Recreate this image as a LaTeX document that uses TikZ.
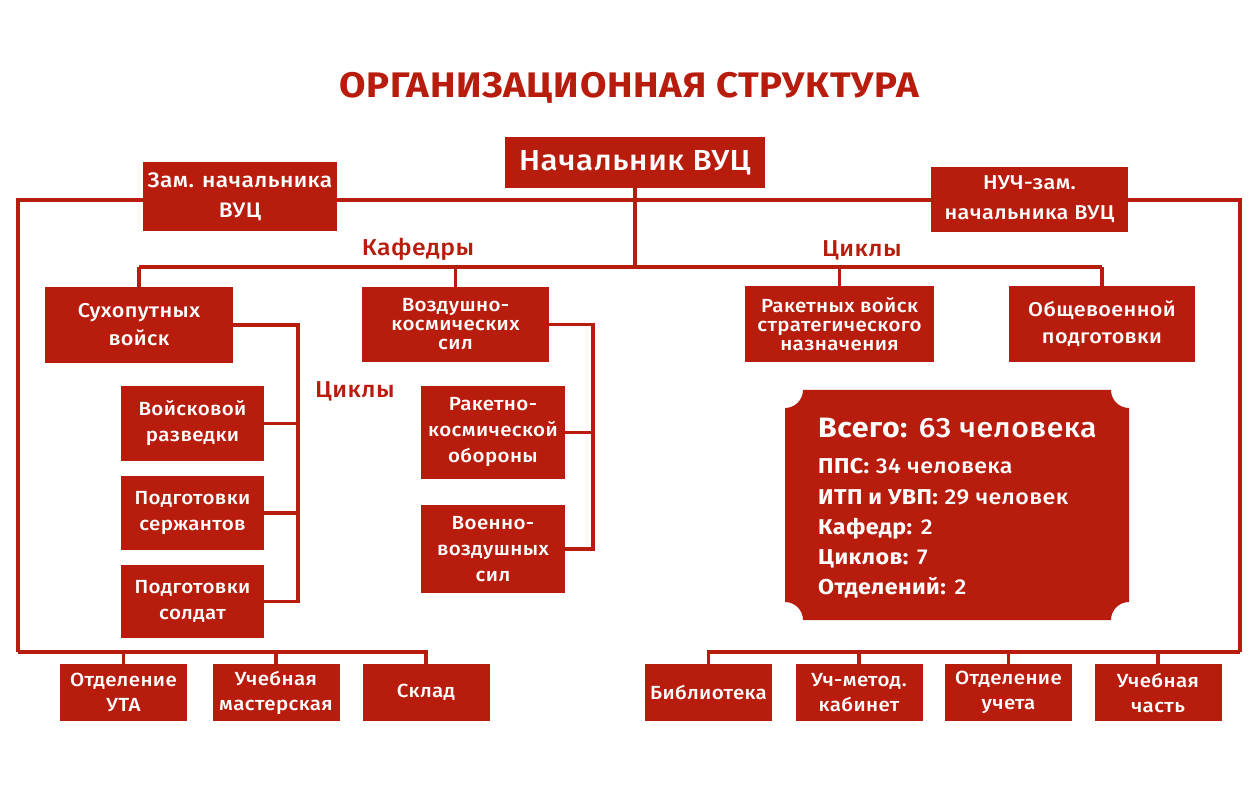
\documentclass[tikz,border=0pt]{standalone}
\usepackage{fontspec}
\setmainfont{Fira Sans}[UprightFont=* Medium, BoldFont=* Bold, FakeStretch=1.08, LetterSpace=2]
\usetikzlibrary{positioning,backgrounds,calc}
\definecolor{vuc}{HTML}{B81C0C}
\tikzset{
  box/.style={fill=vuc,text=white,inner sep=0pt,align=center,font=\fontsize{19}{26}\selectfont},
  sz/.style 2 args={minimum width=#1,minimum height=#2},
  tight/.style={font=\fontsize{19}{19}\selectfont},
  lab/.style={text=vuc,inner sep=0pt,anchor=base,font=\fontsize{23}{23}\selectfont},
  link/.style={draw=vuc,line width=3.5pt},
}
\begin{document}
\begin{tikzpicture}[x=1pt,y=-1pt]
\useasboundingbox (0,0) rectangle (1254,786);
\node[lab,font=\fontsize{35.5}{36}\selectfont\bfseries] (title) at (629,98) {ОРГАНИЗАЦИОННАЯ СТРУКТУРА};
% head
\node[box,sz={260}{51},font=\fontsize{29}{29}\selectfont] (chief) at (635,162.5) {Начальник ВУЦ};
\node[box,sz={194}{69},font=\fontsize{21}{30}\selectfont] (dep1) at (240,196.5) {Зам. начальника\\ВУЦ};
\node[box,sz={197}{65},font=\fontsize{20}{30}\selectfont] (dep2) at (1029.5,199.5) {НУЧ-зам.\\начальника ВУЦ};
% kafedry and cycles
\node[box,sz={188}{76},font=\fontsize{20}{28}\selectfont] (kaf1) at (139,325) {Сухопутных\\войск};
\node[box,tight,sz={187}{75}] (kaf2) at (455.5,324.5) {Воздушно-\\космических\\сил};
\node[box,tight,sz={189}{76}] (cyc1) at (839.5,324) {Ракетных войск\\стратегического\\назначения};
\node[box,sz={186}{76},font=\fontsize{20}{27}\selectfont] (cyc2) at (1102,324) {Общевоенной\\подготовки};
\node[lab] (lkaf) at (418,256) {Кафедры};
\node[lab] (lcyc) at (862,257) {Циклы};
\node[lab] (lsub) at (355,398) {Циклы};
% sub cycles
\node[box,sz={143}{75}] (sub1) at (192.5,423.5) {Войсковой\\разведки};
\node[box,sz={143}{74}] (sub2) at (192.5,513) {Подготовки\\сержантов};
\node[box,sz={143}{73}] (sub3) at (192.5,601.5) {Подготовки\\солдат};
\node[box,sz={144}{93}] (sub4) at (493,432.5) {Ракетно-\\космической\\обороны};
\node[box,sz={144}{88}] (sub5) at (493,549) {Военно-\\воздушных\\сил};
% departments
\foreach \n/\x/\t in {bl1/123.5/{Отделение\\УТА},bl2/276/{Учебная\\мастерская},bl3/426/{Склад},
  br1/708.5/{Библиотека},br2/859/{Уч-метод.\\кабинет},br3/1008.5/{Отделение\\учета},br4/1158/{Учебная\\часть}}
  \node[box,sz={127}{57},font=\fontsize{19}{25}\selectfont] (\n) at (\x,692.5) {\t};
% summary
\fill[vuc] (803,390) -- (1111,390) arc (180:90:18) -- (1129,602) arc (270:180:18)
  -- (803,620) arc (0:-90:18) -- (785,408) arc (90:0:18) -- cycle;
\node[anchor=base west,inner sep=0pt,text=white,font=\fontsize{28}{28}\selectfont] (total) at (818,438)
  {\textbf{Всего:} 63 человека};
\foreach \y/\k/\v in {474/ППС:/34 человека,504/ИТП и УВП:/29 человек,534/Кафедр:/2,564/Циклов:/7,594/Отделений:/2}
  \node[anchor=base west,inner sep=0pt,text=white,font=\fontsize{21.5}{22}\selectfont] at (818,\y) {\textbf{\k} \v};
% links
\begin{scope}[on background layer]
\fill[white] (0,0) rectangle (1254,786);
\coordinate (topL) at (18,200);
\coordinate (topR) at (1240,200);
\coordinate (botL) at (18,652);
\coordinate (botR) at (1240,652);
\coordinate (bar) at (0,267);
\draw[link] (botL) -- (topL) -- (topR) -- (botR);
\draw[link] (chief.south) -- (chief.south |- bar);
\draw[link] (kaf1.north |- bar) -- (cyc2.north |- bar);
\foreach \n in {kaf1,kaf2,cyc1,cyc2} \draw[link] (\n.north) -- (\n.north |- bar);
\draw[link] (kaf1.east) -- ++(65,0) coordinate (vL) |- (sub3.east);
\foreach \n in {sub1,sub2} \draw[link] (\n.east) -- (\n.east -| vL);
\draw[link] (kaf2.east) -- ++(44,0) coordinate (vR) |- (sub5.east);
\draw[link] (sub4.east) -- (sub4.east -| vR);
\draw[link] (botL) -| (bl3.north);
\foreach \n in {bl1,bl2} \draw[link] (\n.north) -- (\n.north |- botL);
\draw[link] (br1.north) |- (botR);
\foreach \n in {br2,br3,br4} \draw[link] (\n.north) -- (\n.north |- botR);
\end{scope}
\end{tikzpicture}
\end{document}
